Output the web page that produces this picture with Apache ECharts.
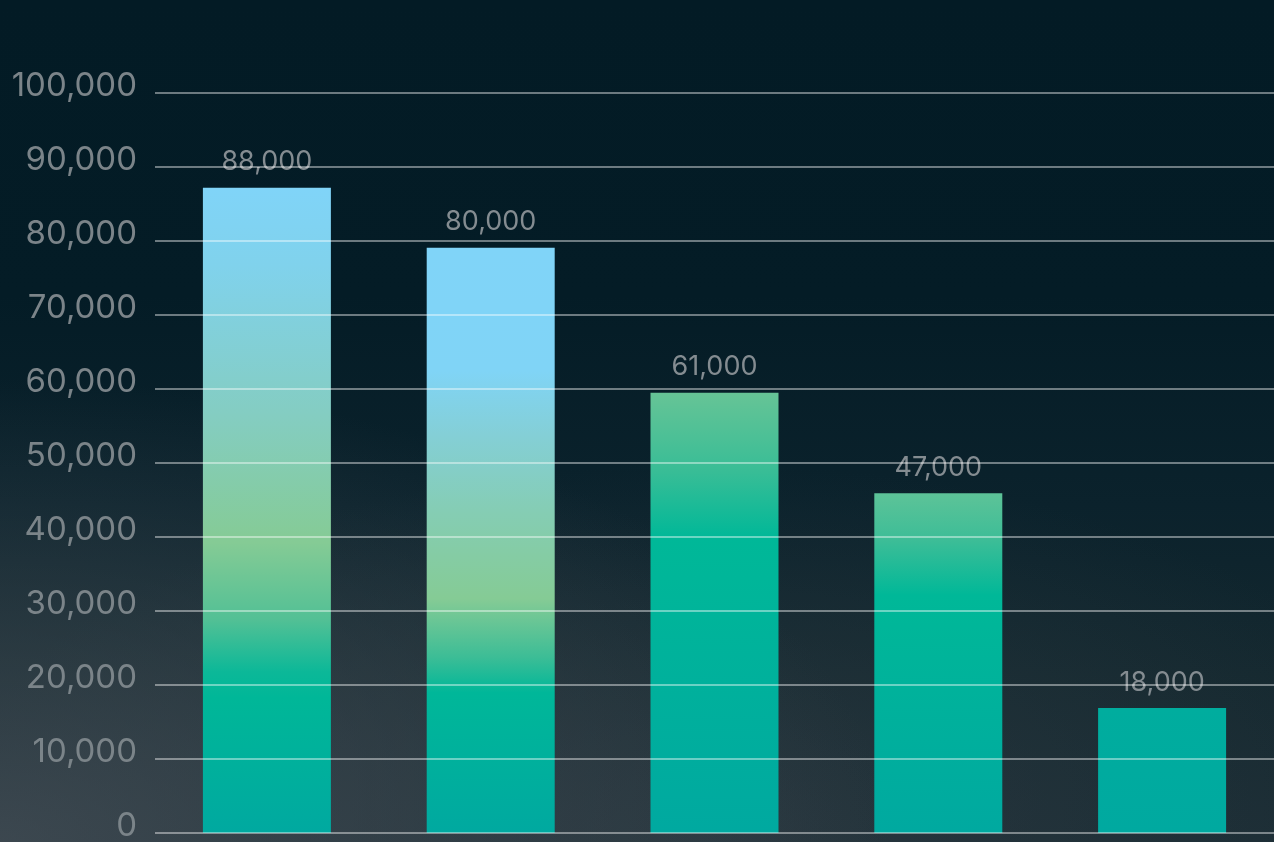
<!DOCTYPE html>
<html>
<head>
<meta charset="utf-8">
<script src="https://cdn.jsdelivr.net/npm/echarts@6/dist/echarts.min.js"></script>
<style>
  html, body { margin: 0; padding: 0; width: 1274px; height: 842px; overflow: hidden; }
  body {
    background:
      radial-gradient(ellipse 70% 55% at 0% 100%, rgba(68,78,86,0.8) 0%, rgba(68,78,86,0) 100%),
      radial-gradient(ellipse 60% 45% at 55% 100%, rgba(50,62,70,0.6) 0%, rgba(50,62,70,0) 100%),
      linear-gradient(180deg, #031b25 0%, #041c26 35%, #0b222c 60%, #14282f 80%, #1a2c34 100%);
  }
  #chart { width: 1274px; height: 842px; }
</style>
</head>
<body>
<div id="chart"></div>
<script>
// ---- data ----
var categories = ['A', 'B', 'C', 'D', 'E'];
var barValues = [87200, 79100, 59500, 45900, 16900];
var valueLabels = ['88,000', '80,000', '61,000', '47,000', '18,000'];
var yTicks = [0, 10000, 20000, 30000, 40000, 50000, 60000, 70000, 80000, 90000, 100000];

// ---- styles (per-bar gradient stops) ----
var barGradients = [
  [[0, '#80d4f8'], [0.12, '#80d2ec'], [0.35, '#84cdc2'], [0.55, '#85cb95'], [0.67, '#52c095'], [0.75, '#0cb898'], [0.79, '#00b798'], [1, '#00a9a0']],
  [[0, '#80d4f8'], [0.21, '#80d4f6'], [0.32, '#84cfd6'], [0.45, '#85cdb4'], [0.6, '#85cb95'], [0.7, '#3cbd96'], [0.76, '#00b799'], [1, '#00a9a0']],
  [[0, '#66c496'], [0.18, '#38bd96'], [0.33, '#00b898'], [1, '#00a9a0']],
  [[0, '#5dc398'], [0.14, '#3cbd97'], [0.3, '#00b898'], [1, '#00a9a0']],
  [[0, '#00ad9e'], [1, '#00a9a0']]
];

function makeGradient(stops) {
  return new echarts.graphic.LinearGradient(0, 0, 0, 1, stops.map(function (s) {
    return { offset: s[0], color: s[1] };
  }));
}

var seriesData = barValues.map(function (v, i) {
  return { value: v, itemStyle: { color: makeGradient(barGradients[i]) } };
});

var fontFamily = 'Inter, "Noto Sans", sans-serif';

var chart = echarts.init(document.getElementById('chart'), null, { renderer: 'canvas' });
chart.setOption({
  backgroundColor: 'transparent',
  animation: false,
  grid: { left: 155, right: 0, top: 93, bottom: 9, containLabel: false, outerBoundsMode: 'none' },
  xAxis: {
    type: 'category',
    data: categories,
    axisLine: { show: false },
    axisTick: { show: false },
    axisLabel: { show: false },
    splitLine: { show: false }
  },
  yAxis: {
    type: 'value',
    min: yTicks[0],
    max: yTicks[yTicks.length - 1],
    interval: yTicks[1] - yTicks[0],
    z: 10,
    axisLine: { show: false },
    axisTick: { show: false },
    axisLabel: {
      color: '#7b8489',
      fontFamily: fontFamily,
      fontSize: 33,
      margin: 18,
      verticalAlign: 'bottom',
      lineHeight: 13,
      formatter: function (v) { return v.toLocaleString('en-US'); }
    },
    splitLine: { show: true, lineStyle: { color: 'rgba(255,255,255,0.42)', width: 2 } }
  },
  series: [{
    type: 'bar',
    data: seriesData,
    barWidth: 128,
    label: {
      show: true,
      position: 'top',
      distance: 12,
      color: '#848c91',
      fontFamily: fontFamily,
      fontSize: 27,
      formatter: function (p) { return valueLabels[p.dataIndex]; }
    }
  }]
});
</script>
</body>
</html>
